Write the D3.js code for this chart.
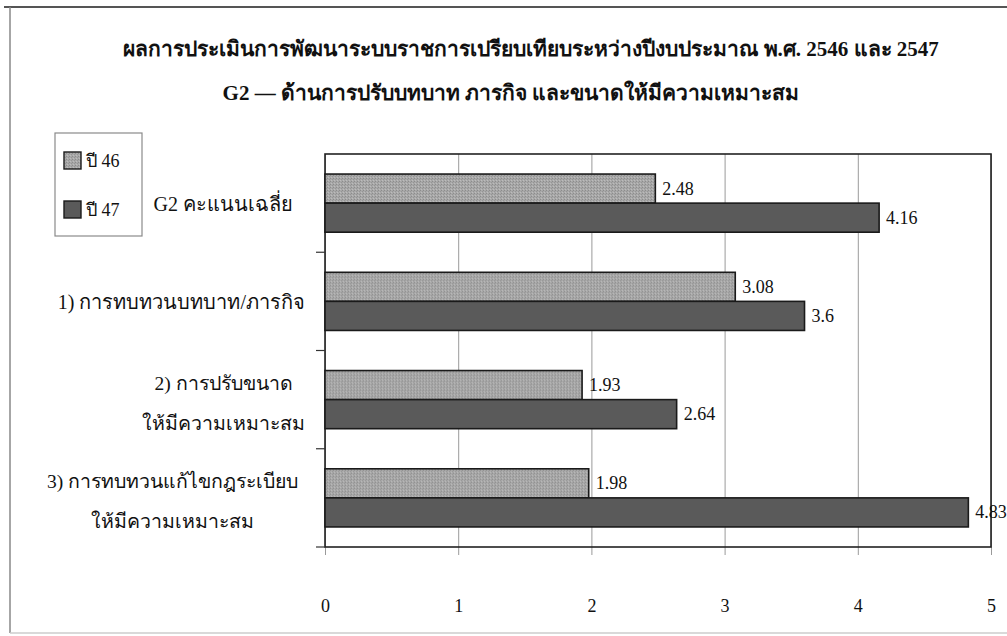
<!DOCTYPE html>
<html>
<head>
<meta charset="utf-8">
<script src="https://cdn.jsdelivr.net/npm/d3@7"></script>
<style>
  html, body { margin: 0; padding: 0; background: #fff; }
  svg { display: block; }
  text { font-family: "Liberation Serif", "Times New Roman", serif; fill: #111; }
</style>
</head>
<body>
<svg id="chart" width="1007" height="636"></svg>
<script>
// Categories (top to bottom), each may wrap onto two lines
const categories = ["G2", "C1", "C2", "C3"];
const categoryLines = [
  ["G2 คะแนนเฉลี่ย"],
  ["1) การทบทวนบทบาท/ภารกิจ"],
  ["2) การปรับขนาด", "ให้มีความเหมาะสม"],
  ["3) การทบทวนแก้ไขกฎระเบียบ", "ให้มีความเหมาะสม"]
];
const seriesNames = ["ปี 46", "ปี 47"];
const values46 = [2.48, 3.08, 1.93, 1.98];
const values47 = [4.16, 3.6, 2.64, 4.83];
const xTicks = [0, 1, 2, 3, 4, 5];
const titleLines = [
  "ผลการประเมินการพัฒนาระบบราชการเปรียบเทียบระหว่างปีงบประมาณ พ.ศ. 2546 และ 2547",
  "G2 — ด้านการปรับบทบาท ภารกิจ และขนาดให้มีความเหมาะสม"
];

const svg = d3.select("#chart");
const W = 1007, H = 636;
const plot = { left: 325, right: 991, top: 154, bottom: 547 };

// Fill patterns: fine stipple for the light series, flat dark for the other
const defs = svg.append("defs");
const pat = defs.append("pattern")
  .attr("id", "stipple").attr("width", 3).attr("height", 3)
  .attr("patternUnits", "userSpaceOnUse");
pat.append("rect").attr("width", 3).attr("height", 3).attr("fill", "#a8a8a8");
pat.append("rect").attr("x", 0).attr("y", 0).attr("width", 1).attr("height", 1).attr("fill", "#8c8c8c");
pat.append("rect").attr("x", 2).attr("y", 1).attr("width", 1).attr("height", 1).attr("fill", "#959595");
pat.append("rect").attr("x", 1).attr("y", 2).attr("width", 1).attr("height", 1).attr("fill", "#bcbcbc");
const fills = ["url(#stipple)", "#5a5a5a"];

// Outer frame (top and left edges visible)
svg.append("line").attr("x1", 4).attr("x2", W).attr("y1", 7).attr("y2", 7)
  .attr("stroke", "#555").attr("stroke-width", 2);
svg.append("line").attr("x1", 10).attr("x2", 10).attr("y1", 7).attr("y2", 633)
  .attr("stroke", "#888").attr("stroke-width", 1.5);
svg.append("line").attr("x1", 10).attr("x2", W).attr("y1", 633).attr("y2", 633)
  .attr("stroke", "#ccc").attr("stroke-width", 1.5);

// Titles
const titleX = [531, 511];
svg.selectAll("text.title").data(titleLines).join("text")
  .attr("class", "title")
  .attr("x", (d, i) => titleX[i]).attr("y", (d, i) => i === 0 ? 56 : 100)
  .attr("text-anchor", "middle")
  .style("font-size", "21px").style("font-weight", "bold")
  .text(d => d);

// Scales
const x = d3.scaleLinear().domain([0, 5]).range([plot.left, plot.right]);
const y = d3.scaleBand().domain(categories).range([plot.top, plot.bottom]).paddingInner(0);
const ySub = d3.scaleBand().domain(seriesNames).range([0, y.bandwidth()]).paddingInner(0).paddingOuter(0.69);

// Vertical gridlines extending below the plot as tick marks
const xAxis = d3.axisBottom(x).tickValues(xTicks).tickSize(plot.bottom - plot.top + 8).tickFormat(d3.format("d"));
const gx = svg.append("g").attr("transform", `translate(0,${plot.top})`).call(xAxis);
gx.select(".domain").remove();
gx.selectAll(".tick line").attr("stroke", "#9a9a9a").attr("stroke-width", 1);
gx.selectAll(".tick text").attr("y", plot.bottom - plot.top + 52)
  .style("font-size", "18px").attr("fill", "#111");

// Plot frame
svg.append("rect")
  .attr("x", plot.left).attr("y", plot.top)
  .attr("width", plot.right - plot.left).attr("height", plot.bottom - plot.top)
  .attr("fill", "none").attr("stroke", "#222").attr("stroke-width", 1.6);

// Category separators on the left axis
const yBounds = categories.map(c => y(c)).concat([plot.bottom]).slice(1);
svg.selectAll("line.ytick").data(yBounds).join("line")
  .attr("class", "ytick")
  .attr("x1", plot.left - 9).attr("x2", plot.left)
  .attr("y1", d => d).attr("y2", d => d)
  .attr("stroke", "#333").attr("stroke-width", 1.2);

// Bars
const rows = categories.map((c, i) => ({ c, vals: [values46[i], values47[i]] }));
const groups = svg.selectAll("g.cat").data(rows).join("g")
  .attr("class", "cat")
  .attr("transform", d => `translate(0,${y(d.c)})`);

groups.selectAll("rect").data(d => d.vals.map((v, k) => ({ v, k })))
  .join("rect")
  .attr("x", x(0))
  .attr("y", d => ySub(seriesNames[d.k]))
  .attr("width", d => x(d.v) - x(0))
  .attr("height", ySub.bandwidth())
  .attr("fill", d => fills[d.k])
  .attr("stroke", "#1a1a1a").attr("stroke-width", 1.6);

groups.selectAll("text.val").data(d => d.vals.map((v, k) => ({ v, k })))
  .join("text")
  .attr("class", "val")
  .attr("x", d => x(d.v) + 7)
  .attr("y", d => ySub(seriesNames[d.k]) + ySub.bandwidth() / 2 + 6)
  .style("font-size", "18px")
  .text(d => d.v);

// Category labels: each block centred, its widest line ending near the axis
const labelRight = [293, 305, 305, 298];
const labelSize = ["20px", "20px", "19.5px", "19.5px"];
groups.each(function (d, i) {
  const lines = categoryLines[i];
  const g = d3.select(this);
  const mid = y.bandwidth() / 2;
  const t = g.selectAll("text.cat").data(lines).join("text")
    .attr("class", "cat")
    .attr("y", (s, j) => mid + 8 + (j - (lines.length - 1) / 2) * 40 + (lines.length > 1 ? 2 : 0))
    .style("font-size", labelSize[i])
    .text(s => s);
  let maxW = 0;
  t.each(function () { maxW = Math.max(maxW, this.getComputedTextLength()); });
  t.attr("x", labelRight[i] - maxW / 2).attr("text-anchor", "middle");
});

// Legend
const leg = svg.append("g");
leg.append("rect").attr("x", 55).attr("y", 133).attr("width", 87).attr("height", 103)
  .attr("fill", "#fff").attr("stroke", "#8a8a8a").attr("stroke-width", 1.2);
seriesNames.forEach((s, k) => {
  const cy = 160 + k * 49;
  leg.append("rect").attr("x", 64).attr("y", cy - 8).attr("width", 17).attr("height", 17)
    .attr("fill", fills[k]).attr("stroke", "#1a1a1a").attr("stroke-width", 1.4);
  leg.append("text").attr("x", 86).attr("y", cy + 7).style("font-size", "18px").text(s);
});
</script>
</body>
</html>
